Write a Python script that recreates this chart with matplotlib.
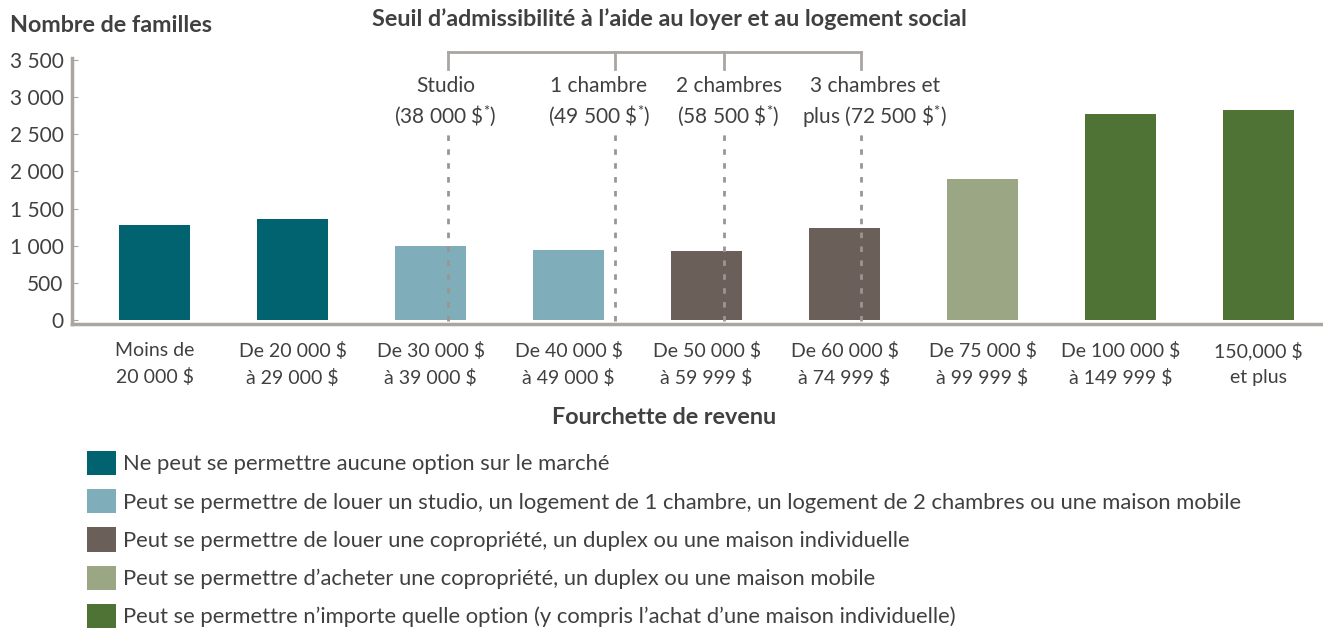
import matplotlib.pyplot as plt
from matplotlib.patches import Patch

# ---------------- Data ----------------
categories = ["Moins de\n20 000 \\$", "De 20 000 \\$\nà 29 000 \\$", "De 30 000 \\$\nà 39 000 \\$",
              "De 40 000 \\$\nà 49 000 \\$", "De 50 000 \\$\nà 59 999 \\$", "De 60 000 \\$\nà 74 999 \\$",
              "De 75 000 \\$\nà 99 999 \\$", "De 100 000 \\$\nà 149 999 \\$", "150,000 \\$\net plus"]
families = [1280, 1360, 1000, 945, 935, 1235, 1895, 2775, 2830]
groups = [0, 0, 1, 1, 2, 2, 3, 4, 4]

group_labels = [
    "Ne peut se permettre aucune option sur le marché",
    "Peut se permettre de louer un studio, un logement de 1 chambre, un logement de 2 chambres ou une maison mobile",
    "Peut se permettre de louer une copropriété, un duplex ou une maison individuelle",
    "Peut se permettre d’acheter une copropriété, un duplex ou une maison mobile",
    "Peut se permettre n’importe quelle option (y compris l’achat d’une maison individuelle)",
]
group_colors = ["#00636F", "#7FAEBA", "#6A6059", "#9BA784", "#4F7335"]

yticks = [0, 500, 1000, 1500, 2000, 2500, 3000, 3500]
ytick_labels = ["0", "500", "1 000", "1 500", "2 000", "2 500", "3 000", "3 500"]

# thresholds (positions on the category axis) and their labels
threshold_pos = [2.13, 3.34, 4.13, 5.12]
threshold_label_pos = [2.11, 3.22, 4.16, 5.22]
threshold_line1 = ["Studio", "1 chambre", "2 chambres", "3 chambres et"]
threshold_line2 = [r"(38 000 \$$^{*}$)", r"(49 500 \$$^{*}$)", r"(58 500 \$$^{*}$)", r"plus (72 500 \$$^{*}$)"]

# ---------------- Style ----------------
plt.rcParams["font.family"] = ["Lato", "DejaVu Sans"]
plt.rcParams["mathtext.fontset"] = "custom"
plt.rcParams["mathtext.rm"] = "Lato"
plt.rcParams["mathtext.it"] = "Lato"
text_col = "#404040"
axis_col = "#ABA5A1"
dot_col = "#9C9592"

fig = plt.figure(figsize=(13.23, 6.32), dpi=100)
ax = fig.add_axes([72 / 1323, 1 - 324 / 632, 1 - 72 / 1323, (324 - 58) / 632])

x = list(range(len(categories)))
ax.bar(x, families, width=0.515, color=[group_colors[g] for g in groups], zorder=2)

ax.set_xlim(-0.598, 8.467)
ax.set_ylim(-54, 3527)
ax.set_yticks(yticks)
ax.set_yticklabels(ytick_labels)
ax.set_xticks(x)
ax.set_xticklabels(categories, linespacing=1.6)
ax.tick_params(axis="y", labelsize=15, colors=axis_col, labelcolor=text_col, direction="in", length=4, pad=6)
ax.tick_params(axis="x", labelsize=14, labelcolor=text_col, length=0, pad=13)
for s in ["top", "right"]:
    ax.spines[s].set_visible(False)
for s in ["left", "bottom"]:
    ax.spines[s].set_color(axis_col)
    ax.spines[s].set_linewidth(2.5)

# dotted threshold lines
for p in threshold_pos:
    ax.plot([p, p], [-20, 2500], ls=(0, (2, 3)), color=dot_col, lw=2, zorder=3)

# bracket on top
ax.plot([threshold_pos[0], threshold_pos[-1]], [3610, 3610], color=axis_col, lw=2, clip_on=False)
for p in threshold_pos:
    ax.plot([p, p], [3610, 3380], color=axis_col, lw=2, clip_on=False)

for p, l1, l2 in zip(threshold_label_pos, threshold_line1, threshold_line2):
    ax.text(p, 3150, l1, ha="center", va="center", fontsize=15, color=text_col)
    ax.text(p, 2745, l2, ha="center", va="center", fontsize=15, color=text_col)

# titles
fig.text(10 / 1323, 1 - 25 / 632, "Nombre de familles", fontsize=16.8, fontweight="bold",
         color=text_col, ha="left", va="center")
fig.text(669 / 1323, 1 - 19 / 632, "Seuil d’admissibilité à l’aide au loyer et au logement social",
         fontsize=16.8, fontweight="bold", color=text_col, ha="center", va="center")
fig.text(664 / 1323, 1 - 417 / 632, "Fourchette de revenu", fontsize=16.8, fontweight="bold",
         color=text_col, ha="center", va="center")

# legend
handles = [Patch(facecolor=c, edgecolor="none") for c in group_colors]
fig.legend(handles, group_labels, loc="upper left", bbox_to_anchor=(87 / 1323, 1 - 451 / 632),
           frameon=False, fontsize=15.8, handlelength=1.32, handleheight=1.32, handletextpad=0.32,
           labelspacing=0.64, borderpad=0, borderaxespad=0, labelcolor=text_col)

plt.savefig("out.png", dpi=100)
